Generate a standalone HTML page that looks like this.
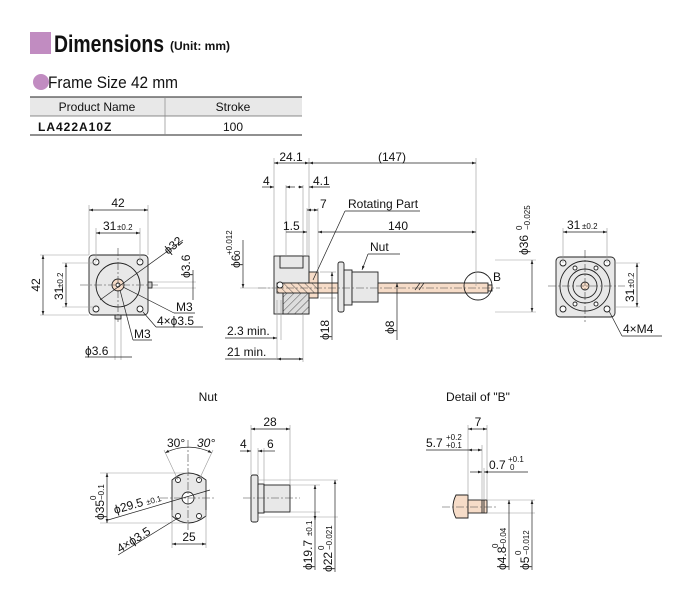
<!DOCTYPE html>
<html><head><meta charset="utf-8"><style>
body{margin:0;background:#fff;width:690px;height:602px;overflow:hidden}
svg{display:block;font-family:"Liberation Sans",sans-serif}
text{fill:#111}
.d{stroke:#222;stroke-width:0.7;fill:none}
.g{stroke:#999;stroke-width:0.6;fill:none}
.c{stroke:#444;stroke-width:0.6;fill:none;stroke-dasharray:8 2 2 2}
.o{stroke:#222;stroke-width:0.9}
.t{font-size:12px}
.s{font-size:8px}
</style></head><body>
<svg width="690" height="602" viewBox="0 0 690 602">
<defs>
<marker id="a" markerWidth="6" markerHeight="6" refX="6" refY="3" orient="auto-start-reverse"><path d="M0,1 L6,3 L0,5z" fill="#222"/></marker>
<pattern id="h" width="5" height="5" patternUnits="userSpaceOnUse" patternTransform="rotate(45)"><rect width="5" height="5" fill="#ddd"/><line x1="0" y1="0" x2="0" y2="5" stroke="#333" stroke-width="0.8"/></pattern>
<pattern id="hp" width="5" height="5" patternUnits="userSpaceOnUse" patternTransform="rotate(-45)"><rect width="5" height="5" fill="#f6dcc8"/><line x1="0" y1="0" x2="0" y2="5" stroke="#333" stroke-width="0.8"/></pattern>
</defs>
<!-- header -->
<rect x="30" y="32" width="21" height="22" fill="#c18cc1"/>
<text x="54" y="52" style="font-size:24px;font-weight:bold" textLength="110" lengthAdjust="spacingAndGlyphs">Dimensions</text>
<text x="170" y="50" style="font-size:12px;font-weight:bold">(Unit: mm)</text>
<circle cx="41" cy="82" r="8" fill="#c18cc1"/>
<text x="48" y="88" style="font-size:17px" textLength="130" lengthAdjust="spacingAndGlyphs">Frame Size 42 mm</text>
<rect x="30" y="97" width="272" height="19" fill="#e8e8e8"/>
<line x1="30" y1="97" x2="302" y2="97" stroke="#222" stroke-width="1"/>
<line x1="30" y1="116" x2="302" y2="116" stroke="#666" stroke-width="0.7"/>
<line x1="30" y1="135" x2="302" y2="135" stroke="#222" stroke-width="1"/>
<line x1="165" y1="97" x2="165" y2="135" stroke="#888" stroke-width="0.7"/>
<text x="97" y="111" class="t" text-anchor="middle">Product Name</text>
<text x="233" y="111" class="t" text-anchor="middle">Stroke</text>
<text x="38" y="131" style="font-size:12px;font-weight:bold;letter-spacing:1px">LA422A10Z</text>
<text x="233" y="131" class="t" text-anchor="middle">100</text>

<!-- front view -->
<rect x="89" y="255" width="59" height="60" rx="4" fill="#e8e8e8" class="o"/>
<circle cx="118" cy="285" r="22" fill="#e8e8e8" class="o"/>
<circle cx="118" cy="285" r="6" fill="#f6dcc8" class="o"/>
<circle cx="118" cy="285" r="2" fill="#fff" class="o"/>
<g fill="#fff" class="o"><circle cx="96" cy="262" r="3"/><circle cx="140" cy="262" r="3"/><circle cx="96" cy="309" r="3"/><circle cx="140" cy="309" r="3"/></g>
<line x1="80" y1="285" x2="160" y2="285" class="c"/><line x1="118" y1="248" x2="118" y2="322" class="c"/>
<rect x="148" y="282" width="4" height="6" fill="#ccc" class="o"/>
<rect x="115" y="315" width="6" height="4" fill="#ccc" class="o"/>
<line x1="89" y1="205" x2="89" y2="255" class="g"/><line x1="148" y1="205" x2="148" y2="255" class="g"/>
<line x1="89" y1="210" x2="148" y2="210" class="d" marker-start="url(#a)" marker-end="url(#a)"/>
<text x="118" y="207" class="t" text-anchor="middle">42</text>
<line x1="96" y1="228" x2="96" y2="262" class="g"/><line x1="140" y1="228" x2="140" y2="262" class="g"/>
<line x1="96" y1="233" x2="140" y2="233" class="d" marker-start="url(#a)" marker-end="url(#a)"/>
<text x="103" y="230" class="t">31</text><text x="117" y="230" class="s">±0.2</text>
<line x1="40" y1="255" x2="89" y2="255" class="g"/><line x1="40" y1="315" x2="89" y2="315" class="g"/>
<line x1="43" y1="255" x2="43" y2="315" class="d" marker-start="url(#a)" marker-end="url(#a)"/>
<text transform="translate(40,285) rotate(-90)" class="t" text-anchor="middle">42</text>
<line x1="62" y1="263" x2="96" y2="263" class="g"/><line x1="62" y1="307" x2="96" y2="307" class="g"/>
<line x1="66" y1="263" x2="66" y2="307" class="d" marker-start="url(#a)" marker-end="url(#a)"/>
<text transform="translate(63,300) rotate(-90)" class="t">31</text><text transform="translate(63,288) rotate(-90)" class="s">±0.2</text>
<line x1="100" y1="300" x2="183" y2="240" class="d"/>
<text transform="translate(168,255) rotate(-40)" class="t">ϕ32</text>
<line x1="152" y1="282" x2="196" y2="282" class="g"/><line x1="152" y1="288" x2="196" y2="288" class="g"/>
<line x1="193" y1="270" x2="193" y2="300" class="d"/>
<text transform="translate(190,278) rotate(-90)" class="t">ϕ3.6</text>
<line x1="123" y1="287" x2="174" y2="313" class="d"/><line x1="174" y1="313" x2="195" y2="313" class="d"/>
<text x="176" y="311" class="t">M3</text>
<line x1="143" y1="312" x2="156" y2="327" class="d"/><line x1="156" y1="327" x2="203" y2="327" class="d"/>
<text x="157" y="325" class="t">4×ϕ3.5</text>
<line x1="120" y1="290" x2="133" y2="340" class="d"/><line x1="133" y1="340" x2="152" y2="340" class="d"/>
<text x="134" y="338" class="t">M3</text>
<line x1="115" y1="319" x2="115" y2="360" class="g"/><line x1="121" y1="319" x2="121" y2="360" class="g"/>
<line x1="85" y1="357" x2="132" y2="357" class="d"/>
<text x="85" y="355" class="t">ϕ3.6</text>

<!-- side view -->
<rect x="274" y="256" width="35" height="58" fill="#e8e8e8" class="o"/>
<rect x="280" y="256" width="23" height="12" fill="#e8e8e8" class="o"/>
<rect x="283" y="283" width="26" height="31" fill="url(#h)" class="o"/>
<rect x="309" y="272" width="9" height="26" fill="#f6dcc8" class="o"/>
<rect x="277" y="283" width="41" height="10" fill="url(#hp)" class="o"/>
<circle cx="280" cy="285" r="3" fill="#fff" class="o"/>
<rect x="318" y="283" width="20" height="10" fill="#f6dcc8" class="o"/>
<rect x="338" y="262" width="6" height="50" rx="2" fill="#e8e8e8" class="o"/>
<rect x="344" y="270" width="8" height="35" fill="#e8e8e8" class="o"/>
<rect x="352" y="272" width="26" height="30" fill="#e8e8e8" class="o"/>
<rect x="378" y="283" width="110" height="10" fill="#f6dcc8" class="o"/>
<rect x="488" y="285" width="4" height="6" fill="#f6dcc8" class="o"/>
<line x1="258" y1="288" x2="500" y2="288" class="c"/>
<circle cx="478" cy="286" r="14" fill="none" class="o" stroke-width="0.7"/>
<text x="493" y="281" class="t">B</text>
<line x1="415" y1="290" x2="420" y2="283" class="d"/><line x1="419" y1="290" x2="424" y2="283" class="d"/>
<g class="g"><line x1="274" y1="158" x2="274" y2="256"/><line x1="309" y1="158" x2="309" y2="256"/><line x1="476" y1="158" x2="476" y2="286"/><line x1="286" y1="185" x2="286" y2="256"/><line x1="303" y1="185" x2="303" y2="256"/><line x1="307" y1="208" x2="307" y2="256"/><line x1="318" y1="208" x2="318" y2="272"/></g>
<line x1="274" y1="163" x2="309" y2="163" class="d" marker-start="url(#a)" marker-end="url(#a)"/>
<text x="291" y="161" class="t" text-anchor="middle">24.1</text>
<line x1="309" y1="163" x2="476" y2="163" class="d" marker-start="url(#a)" marker-end="url(#a)"/>
<text x="392" y="161" class="t" text-anchor="middle">(147)</text>
<line x1="262" y1="187" x2="274" y2="187" class="d" marker-end="url(#a)"/><line x1="286" y1="187" x2="295" y2="187" class="d" marker-start="url(#a)"/>
<text x="263" y="185" class="t">4</text>
<line x1="298" y1="187" x2="303" y2="187" class="d" marker-end="url(#a)"/><line x1="309" y1="187" x2="330" y2="187" class="d" marker-start="url(#a)"/>
<text x="313" y="185" class="t">4.1</text>
<line x1="307" y1="210" x2="318" y2="210" class="d" marker-start="url(#a)" marker-end="url(#a)"/>
<text x="320" y="208" class="t">7</text>
<line x1="286" y1="232" x2="307" y2="232" class="d" marker-end="url(#a)"/>
<text x="283" y="230" class="t">1.5</text>
<line x1="318" y1="232" x2="476" y2="232" class="d" marker-start="url(#a)" marker-end="url(#a)"/>
<text x="398" y="230" class="t" text-anchor="middle">140</text>
<text x="348" y="208" class="t">Rotating Part</text>
<line x1="345" y1="211" x2="420" y2="211" class="d"/><line x1="345" y1="211" x2="313" y2="280" class="d"/>
<text x="370" y="251" class="t">Nut</text>
<line x1="368" y1="254" x2="400" y2="254" class="d"/><line x1="368" y1="254" x2="362" y2="270" class="d" marker-end="url(#a)"/>
<line x1="495" y1="260" x2="536" y2="260" class="g"/><line x1="495" y1="312" x2="536" y2="312" class="g"/>
<line x1="532" y1="260" x2="532" y2="312" class="d" marker-start="url(#a)" marker-end="url(#a)"/>
<text transform="translate(528,255) rotate(-90)" class="t">ϕ36</text><text transform="translate(522,230) rotate(-90)" class="s">0</text><text transform="translate(530,230) rotate(-90)" class="s">−0.025</text>
<line x1="240" y1="288" x2="277" y2="288" class="g"/><line x1="243" y1="240" x2="243" y2="288" class="d" marker-end="url(#a)"/>
<text transform="translate(240,268) rotate(-90)" class="t">ϕ6</text><text transform="translate(232,255) rotate(-90)" class="s">+0.012</text><text transform="translate(240,255) rotate(-90)" class="s">0</text>
<line x1="320" y1="272" x2="336" y2="272" class="g"/><line x1="320" y1="298" x2="336" y2="298" class="g"/>
<line x1="332" y1="272" x2="332" y2="340" class="d" marker-start="url(#a)"/>
<text transform="translate(329,340) rotate(-90)" class="t">ϕ18</text>
<line x1="397" y1="283" x2="397" y2="340" class="d" marker-start="url(#a)"/>
<text transform="translate(394,334) rotate(-90)" class="t">ϕ8</text>
<line x1="277" y1="300" x2="277" y2="358" class="g"/><line x1="281" y1="300" x2="281" y2="340" class="g"/><line x1="303" y1="314" x2="303" y2="362" class="g"/>
<line x1="225" y1="338" x2="277" y2="338" class="d" marker-end="url(#a)"/>
<text x="227" y="335" class="t">2.3 min.</text>
<line x1="225" y1="359" x2="303" y2="359" class="d"/><line x1="277" y1="359" x2="303" y2="359" class="d" marker-start="url(#a)" marker-end="url(#a)"/>
<text x="227" y="356" class="t">21 min.</text>

<!-- right view -->
<rect x="556" y="257" width="59" height="60" rx="4" fill="#e8e8e8" class="o"/>
<circle cx="585" cy="286" r="25" fill="#e8e8e8" class="o"/>
<circle cx="585" cy="286" r="17" fill="#e8e8e8" class="o"/>
<circle cx="585" cy="286" r="12" fill="#e8e8e8" class="o"/>
<circle cx="585" cy="286" r="4" fill="#f6dcc8" class="o"/>
<g fill="#fff" class="o"><circle cx="563" cy="263" r="3"/><circle cx="607" cy="263" r="3"/><circle cx="563" cy="309" r="3"/><circle cx="607" cy="309" r="3"/><circle cx="575" cy="268" r="2"/><circle cx="596" cy="268" r="2"/><circle cx="575" cy="304" r="2"/><circle cx="596" cy="304" r="2"/></g>
<line x1="548" y1="286" x2="625" y2="286" class="c"/><line x1="585" y1="250" x2="585" y2="322" class="c"/>
<line x1="563" y1="228" x2="563" y2="263" class="g"/><line x1="607" y1="228" x2="607" y2="263" class="g"/>
<line x1="563" y1="232" x2="607" y2="232" class="d" marker-start="url(#a)" marker-end="url(#a)"/>
<text x="567" y="229" class="t">31</text><text x="582" y="229" class="s">±0.2</text>
<line x1="615" y1="263" x2="640" y2="263" class="g"/><line x1="615" y1="307" x2="640" y2="307" class="g"/>
<line x1="637" y1="263" x2="637" y2="307" class="d" marker-start="url(#a)" marker-end="url(#a)"/>
<text transform="translate(634,302) rotate(-90)" class="t">31</text><text transform="translate(634,288) rotate(-90)" class="s">±0.2</text>
<line x1="609" y1="311" x2="622" y2="336" class="d"/><line x1="622" y1="336" x2="662" y2="336" class="d"/>
<text x="623" y="333" class="t">4×M4</text>

<!-- Nut -->
<text x="208" y="401" class="t" text-anchor="middle">Nut</text>
<path d="M172,480 Q188,466 206,480 L206,516 Q188,530 172,516 Z" fill="#e8e8e8" class="o"/>
<circle cx="188" cy="498" r="6" fill="#fff" class="o"/>
<g fill="#fff" class="o"><circle cx="178" cy="480" r="2.5"/><circle cx="199" cy="480" r="2.5"/><circle cx="178" cy="516" r="2.5"/><circle cx="199" cy="516" r="2.5"/></g>
<line x1="160" y1="498" x2="215" y2="498" class="c"/><line x1="188" y1="440" x2="188" y2="530" class="c"/>
<path d="M165,453 A50,50 0 0 1 212,453" class="d" marker-start="url(#a)" marker-end="url(#a)"/>
<line x1="178" y1="480" x2="164" y2="450" class="g"/><line x1="199" y1="480" x2="213" y2="450" class="g"/>
<text x="167" y="447" class="t">30°</text><text x="197" y="447" class="t" font-style="italic">30°</text>
<line x1="100" y1="473" x2="188" y2="473" class="g"/><line x1="100" y1="523" x2="188" y2="523" class="g"/>
<line x1="107" y1="473" x2="107" y2="523" class="d" marker-start="url(#a)" marker-end="url(#a)"/>
<text transform="translate(104,520) rotate(-90)" class="t">ϕ35</text><text transform="translate(96,500) rotate(-90)" class="s">0</text><text transform="translate(104,500) rotate(-90)" class="s">−0.1</text>
<line x1="108" y1="520" x2="210" y2="490" class="d"/>
<text transform="translate(115,514) rotate(-16)" class="t">ϕ29.5</text><text transform="translate(147,505) rotate(-16)" class="s">±0.1</text>
<line x1="118" y1="555" x2="178" y2="518" class="d"/>
<text transform="translate(120,553) rotate(-32)" class="t">4×ϕ3.5</text>
<line x1="172" y1="510" x2="172" y2="548" class="g"/><line x1="206" y1="510" x2="206" y2="548" class="g"/>
<line x1="172" y1="544" x2="206" y2="544" class="d" marker-start="url(#a)" marker-end="url(#a)"/>
<text x="189" y="541" class="t" text-anchor="middle">25</text>
<rect x="251" y="475" width="7" height="47" rx="2" fill="#e8e8e8" class="o"/>
<rect x="258" y="484" width="6" height="29" fill="#e8e8e8" class="o"/>
<rect x="264" y="485" width="26" height="27" fill="#e8e8e8" class="o"/>
<line x1="243" y1="498" x2="300" y2="498" class="c"/>
<g class="g"><line x1="251" y1="425" x2="251" y2="475"/><line x1="290" y1="425" x2="290" y2="485"/><line x1="258" y1="448" x2="258" y2="475"/><line x1="264" y1="448" x2="264" y2="484"/><line x1="290" y1="485" x2="320" y2="485"/><line x1="290" y1="512" x2="320" y2="512"/><line x1="258" y1="480" x2="338" y2="480"/><line x1="258" y1="517" x2="338" y2="517"/></g>
<line x1="251" y1="429" x2="290" y2="429" class="d" marker-start="url(#a)" marker-end="url(#a)"/>
<text x="270" y="426" class="t" text-anchor="middle">28</text>
<line x1="240" y1="451" x2="251" y2="451" class="d" marker-end="url(#a)"/><line x1="258" y1="451" x2="264" y2="451" class="d" marker-start="url(#a)"/><line x1="264" y1="451" x2="275" y2="451" class="d"/>
<text x="240" y="448" class="t">4</text><text x="267" y="448" class="t">6</text>
<line x1="315" y1="485" x2="315" y2="570" class="d" marker-start="url(#a)"/><line x1="315" y1="512" x2="315" y2="520" class="d" marker-end="url(#a)"/>
<text transform="translate(312,570) rotate(-90)" class="t">ϕ19.7</text><text transform="translate(312,536) rotate(-90)" class="s">±0.1</text>
<line x1="335" y1="480" x2="335" y2="572" class="d" marker-start="url(#a)"/>
<text transform="translate(332,572) rotate(-90)" class="t">ϕ22</text><text transform="translate(324,550) rotate(-90)" class="s">0</text><text transform="translate(332,550) rotate(-90)" class="s">−0.021</text>

<!-- Detail B -->
<text x="478" y="401" class="t" text-anchor="middle">Detail of "B"</text>
<path d="M456,495 L468,495 L468,518 L456,518 Q450,507 456,495Z" fill="#f6dcc8" class="o"/>
<rect x="468" y="500" width="19" height="13" fill="#f6dcc8" class="o"/>
<line x1="482" y1="500" x2="482" y2="513" class="o"/><line x1="484" y1="500" x2="484" y2="513" class="o"/>
<line x1="487" y1="500" x2="535" y2="500" class="g"/><line x1="487" y1="513" x2="535" y2="513" class="g"/>
<line x1="442" y1="507" x2="498" y2="507" class="c"/>
<g class="g"><line x1="468" y1="425" x2="468" y2="495"/><line x1="487" y1="425" x2="487" y2="500"/><line x1="482" y1="445" x2="482" y2="500"/><line x1="484" y1="468" x2="484" y2="500"/></g>
<line x1="468" y1="429" x2="487" y2="429" class="d" marker-start="url(#a)" marker-end="url(#a)"/>
<text x="478" y="426" class="t" text-anchor="middle">7</text>
<line x1="426" y1="450" x2="468" y2="450" class="d"/><line x1="468" y1="450" x2="482" y2="450" class="d" marker-start="url(#a)" marker-end="url(#a)"/>
<text x="426" y="447" class="t">5.7</text><text x="446" y="440" class="s">+0.2</text><text x="446" y="448" class="s">+0.1</text>
<line x1="470" y1="472" x2="482" y2="472" class="d" marker-end="url(#a)"/><line x1="484" y1="472" x2="528" y2="472" class="d" marker-start="url(#a)"/>
<text x="489" y="469" class="t">0.7</text><text x="508" y="462" class="s">+0.1</text><text x="510" y="470" class="s">0</text>
<line x1="509" y1="500" x2="509" y2="570" class="d" marker-start="url(#a)"/>
<text transform="translate(506,570) rotate(-90)" class="t">ϕ4.8</text><text transform="translate(498,548) rotate(-90)" class="s">0</text><text transform="translate(506,548) rotate(-90)" class="s">−0.04</text>
<line x1="532" y1="500" x2="532" y2="570" class="d" marker-start="url(#a)"/>
<text transform="translate(529,570) rotate(-90)" class="t">ϕ5</text><text transform="translate(521,555) rotate(-90)" class="s">0</text><text transform="translate(529,555) rotate(-90)" class="s">−0.012</text>
</svg>
</body></html>
